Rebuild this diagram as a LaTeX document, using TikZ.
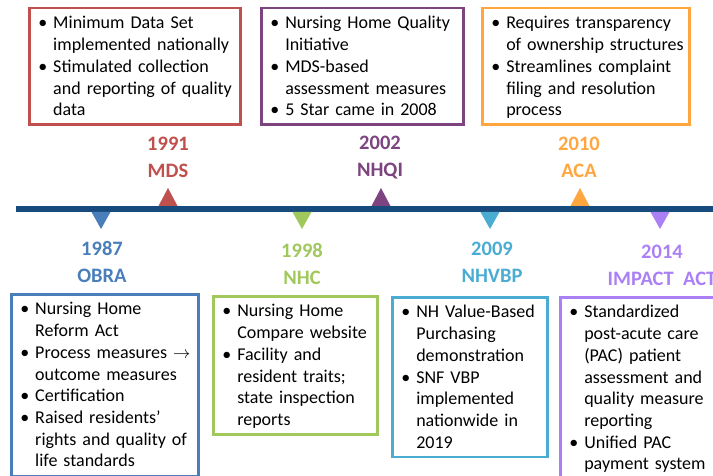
\documentclass[tikz,border=0pt]{standalone}
\usepackage{fontspec}
\setmainfont{Carlito}
\usepackage{enumitem}
\usetikzlibrary{positioning}

\definecolor{timeline}{RGB}{24,75,125}
\definecolor{mdsred}{RGB}{192,80,77}
\definecolor{nhqipurple}{RGB}{125,68,128}
\definecolor{acaorange}{RGB}{255,166,62}
\definecolor{obrablue}{RGB}{74,126,187}
\definecolor{nhcgreen}{RGB}{160,200,92}
\definecolor{vbpcyan}{RGB}{75,172,210}
\definecolor{impactlilac}{RGB}{172,128,245}

\tikzset{
    infobox/.style={draw, line width=2.5pt, anchor=north west, inner xsep=4pt, inner ysep=9pt,
        align=left, font=\fontsize{18}{21.7}\selectfont},
    yearlabel/.style={align=center, font=\bfseries\fontsize{20.5}{27}\selectfont}
}

\newcommand{\bulletlist}[1]{%
    \vspace*{-10pt}%
    \begin{itemize}[nosep, label=\textbullet, leftmargin=20pt, labelsep=6pt]#1\par\vskip-\prevdepth\end{itemize}}

\begin{document}
\begin{tikzpicture}[x=1pt, y=-1pt]
        \useasboundingbox (0,0) rectangle (713,476);
        \clip (0,0) rectangle (713,476);

        % timeline
        \coordinate (start) at (16,209);
        \coordinate (end) at (720,209);
        \draw[line width=6pt, timeline] (start) -- (end);

        % markers above and below
        \fill[mdsred] (158.5,206) -- (177.5,206) -- (168,188) -- cycle;
        \fill[nhqipurple] (371.5,206) -- (390.5,206) -- (381,188) -- cycle;
        \fill[acaorange] (570.5,206) -- (589.5,206) -- (580,188) -- cycle;
        \fill[obrablue] (91.5,212) -- (110.5,212) -- (101,229) -- cycle;
        \fill[nhcgreen] (292.5,212) -- (311.5,212) -- (302,229) -- cycle;
        \fill[vbpcyan] (480.5,212) -- (499.5,212) -- (490,229) -- cycle;
        \fill[impactlilac] (650.5,212) -- (669.5,212) -- (660,229) -- cycle;

        % year labels
        \node[yearlabel, text=mdsred] (mds) at (168,157.5) {1991\\MDS};
        \node[yearlabel, text=nhqipurple] (nhqi) at (380,157.5) {2002\\NHQI};
        \node[yearlabel, text=acaorange] (aca) at (579,157.5) {2010\\ACA};
        \node[yearlabel, text=obrablue] (obra) at (102,261.5) {1987\\OBRA};
        \node[yearlabel, text=nhcgreen] (nhc) at (302,263.5) {1998\\NHC};
        \node[yearlabel, text=vbpcyan] (nhvbp) at (492,262.5) {2009\\NHVBP};
        \node[yearlabel, text=impactlilac] (impact) at (662,265.5) {2014\\IMPACT\ \ ACT};

        % boxes above
        \node[infobox, draw=mdsred, text width=203pt] (mdsbox) at (28,7) {\bulletlist{
            \item Minimum Data Set\\implemented nationally
            \item Stimulated collection\\and reporting of quality\\data}};
        \node[infobox, draw=nhqipurple, text width=194pt] (nhqibox) at (260,7) {\bulletlist{
            \item Nursing Home Quality\\Initiative
            \item MDS-based\\assessment measures
            \item 5 Star came in 2008}};
        \node[infobox, draw=acaorange, text width=199pt] (acabox) at (481,7) {\bulletlist{
            \item Requires transparency\\of ownership structures
            \item Streamlines complaint\\filing and resolution\\process}};

        % boxes below
        \node[infobox, draw=obrablue, text width=179pt] (obrabox) at (10,293) {\bulletlist{
            \item Nursing Home\\Reform Act
            \item Process measures $\rightarrow$\\outcome measures
            \item Certification
            \item Raised residents’\\rights and quality of\\life standards}};
        \node[infobox, draw=nhcgreen, text width=156pt] (nhcbox) at (212,295) {\bulletlist{
            \item Nursing Home\\Compare website
            \item Facility and\\resident traits;\\state inspection\\reports}};
        \node[infobox, draw=vbpcyan, text width=147pt] (nhvbpbox) at (391,296) {\bulletlist{
            \item NH Value-Based\\Purchasing\\demonstration
            \item SNF VBP\\implemented\\nationwide in\\2019}};
        \node[infobox, draw=impactlilac, text width=178pt] (impactbox) at (559,296) {\bulletlist{
            \item Standardized\\post-acute care\\(PAC) patient\\assessment and\\quality measure\\reporting
            \item Unified PAC\\payment system}};
\end{tikzpicture}
\end{document}
